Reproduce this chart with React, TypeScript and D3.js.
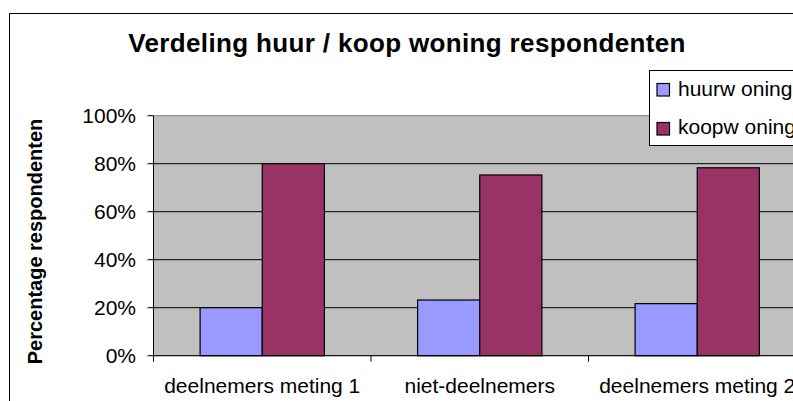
import React from "react";
import * as d3 from "d3";

const categories = ["deelnemers meting 1", "niet-deelnemers", "deelnemers meting 2"];
const seriesNames = ["huurw oning", "koopw oning"];
const huurValues = [0.2, 0.232, 0.217];
const koopValues = [0.8, 0.753, 0.783];
const yTicks = [0, 0.2, 0.4, 0.6, 0.8, 1.0];
const colors = ["#9999FF", "#993366"];

const W = 793;
const H = 401;
const plotLeft = 153.5;
const plotTop = 115.7;
const plotBottom = 355.7;
const band = 217.5;
const font = "'Liberation Sans', Arial, sans-serif";

export default function App() {
  const x = d3
    .scaleBand<string>()
    .domain(categories)
    .range([plotLeft, plotLeft + band * categories.length])
    .paddingInner(0)
    .paddingOuter(0);
  const y = d3.scaleLinear().domain([0, 1]).range([plotBottom, plotTop]);
  const bw = x.bandwidth();
  const groupW = (bw * 2) / 3.5;
  const x1 = d3.scaleBand<number>().domain([0, 1]).range([0, groupW]);
  const plotRight = plotLeft + band * categories.length;
  const series = [huurValues, koopValues];
  const fmt = d3.format(".0%");

  return (
    <svg
      width={W}
      height={H}
      style={{ position: "absolute", left: 0, top: 0, background: "#fff" }}
      fontFamily={font}
    >
      <rect x={9.5} y={13.5} width={800} height={420} fill="#fff" stroke="#000" strokeWidth={1} />
      <text x={407} y={51.5} textAnchor="middle" fontWeight="bold" fontSize={26} letterSpacing={0.35} fill="#000">
        Verdeling huur / koop woning respondenten
      </text>
      {/* plot area */}
      <rect x={plotLeft} y={plotTop} width={plotRight - plotLeft} height={plotBottom - plotTop} fill="#C0C0C0" stroke="#808080" strokeWidth={1} />
      {yTicks.filter((t) => t > 0 && t < 1).map((t) => (
        <line key={t} x1={plotLeft} x2={plotRight} y1={y(t)} y2={y(t)} stroke="#000" strokeWidth={1} />
      ))}
      {/* bars */}
      {categories.map((c, i) =>
        series.map((s, j) => {
          const bx = (x(c) as number) + (bw - groupW) / 2 + (x1(j) as number);
          return (
            <rect
              key={c + j}
              x={bx}
              y={y(s[i])}
              width={x1.bandwidth()}
              height={y(0) - y(s[i])}
              fill={colors[j]}
              stroke="#000"
              strokeWidth={1.2}
            />
          );
        })
      )}
      {/* y axis */}
      <line x1={plotLeft} x2={plotLeft} y1={plotTop} y2={plotBottom} stroke="#000" strokeWidth={1} />
      {yTicks.map((t) => (
        <g key={t}>
          <line x1={plotLeft - 6} x2={plotLeft} y1={y(t)} y2={y(t)} stroke="#000" strokeWidth={1} />
          <text x={136} y={y(t)} dy="0.36em" textAnchor="end" fontSize={21} fill="#000">
            {fmt(t)}
          </text>
        </g>
      ))}
      {/* x axis */}
      <line x1={plotLeft} x2={plotRight} y1={plotBottom} y2={plotBottom} stroke="#000" strokeWidth={1} />
      {d3.range(categories.length + 1).map((k) => (
        <line key={k} x1={plotLeft + k * band} x2={plotLeft + k * band} y1={plotBottom} y2={plotBottom + 6} stroke="#000" strokeWidth={1} />
      ))}
      {categories.map((c) => (
        <text key={c} x={(x(c) as number) + bw / 2} y={393.3} textAnchor="middle" fontSize={21} fill="#000">
          {c}
        </text>
      ))}
      {/* y title */}
      <text
        transform="translate(41.5,241.5) rotate(-90)"
        textAnchor="middle"
        fontWeight="bold"
        fontSize={20}
        fill="#000"
      >
        Percentage respondenten
      </text>
      {/* legend */}
      <rect x={649.5} y={70.5} width={170} height={75} fill="#fff" stroke="#000" strokeWidth={1} />
      {seriesNames.map((n, j) => (
        <g key={n}>
          <rect x={657} y={j === 0 ? 83.5 : 122.5} width={12.5} height={12.5} fill={colors[j]} stroke="#000" strokeWidth={1.2} />
          <text x={678} y={j === 0 ? 96 : 134} fontSize={21} fill="#000">
            {n}
          </text>
        </g>
      ))}
    </svg>
  );
}
